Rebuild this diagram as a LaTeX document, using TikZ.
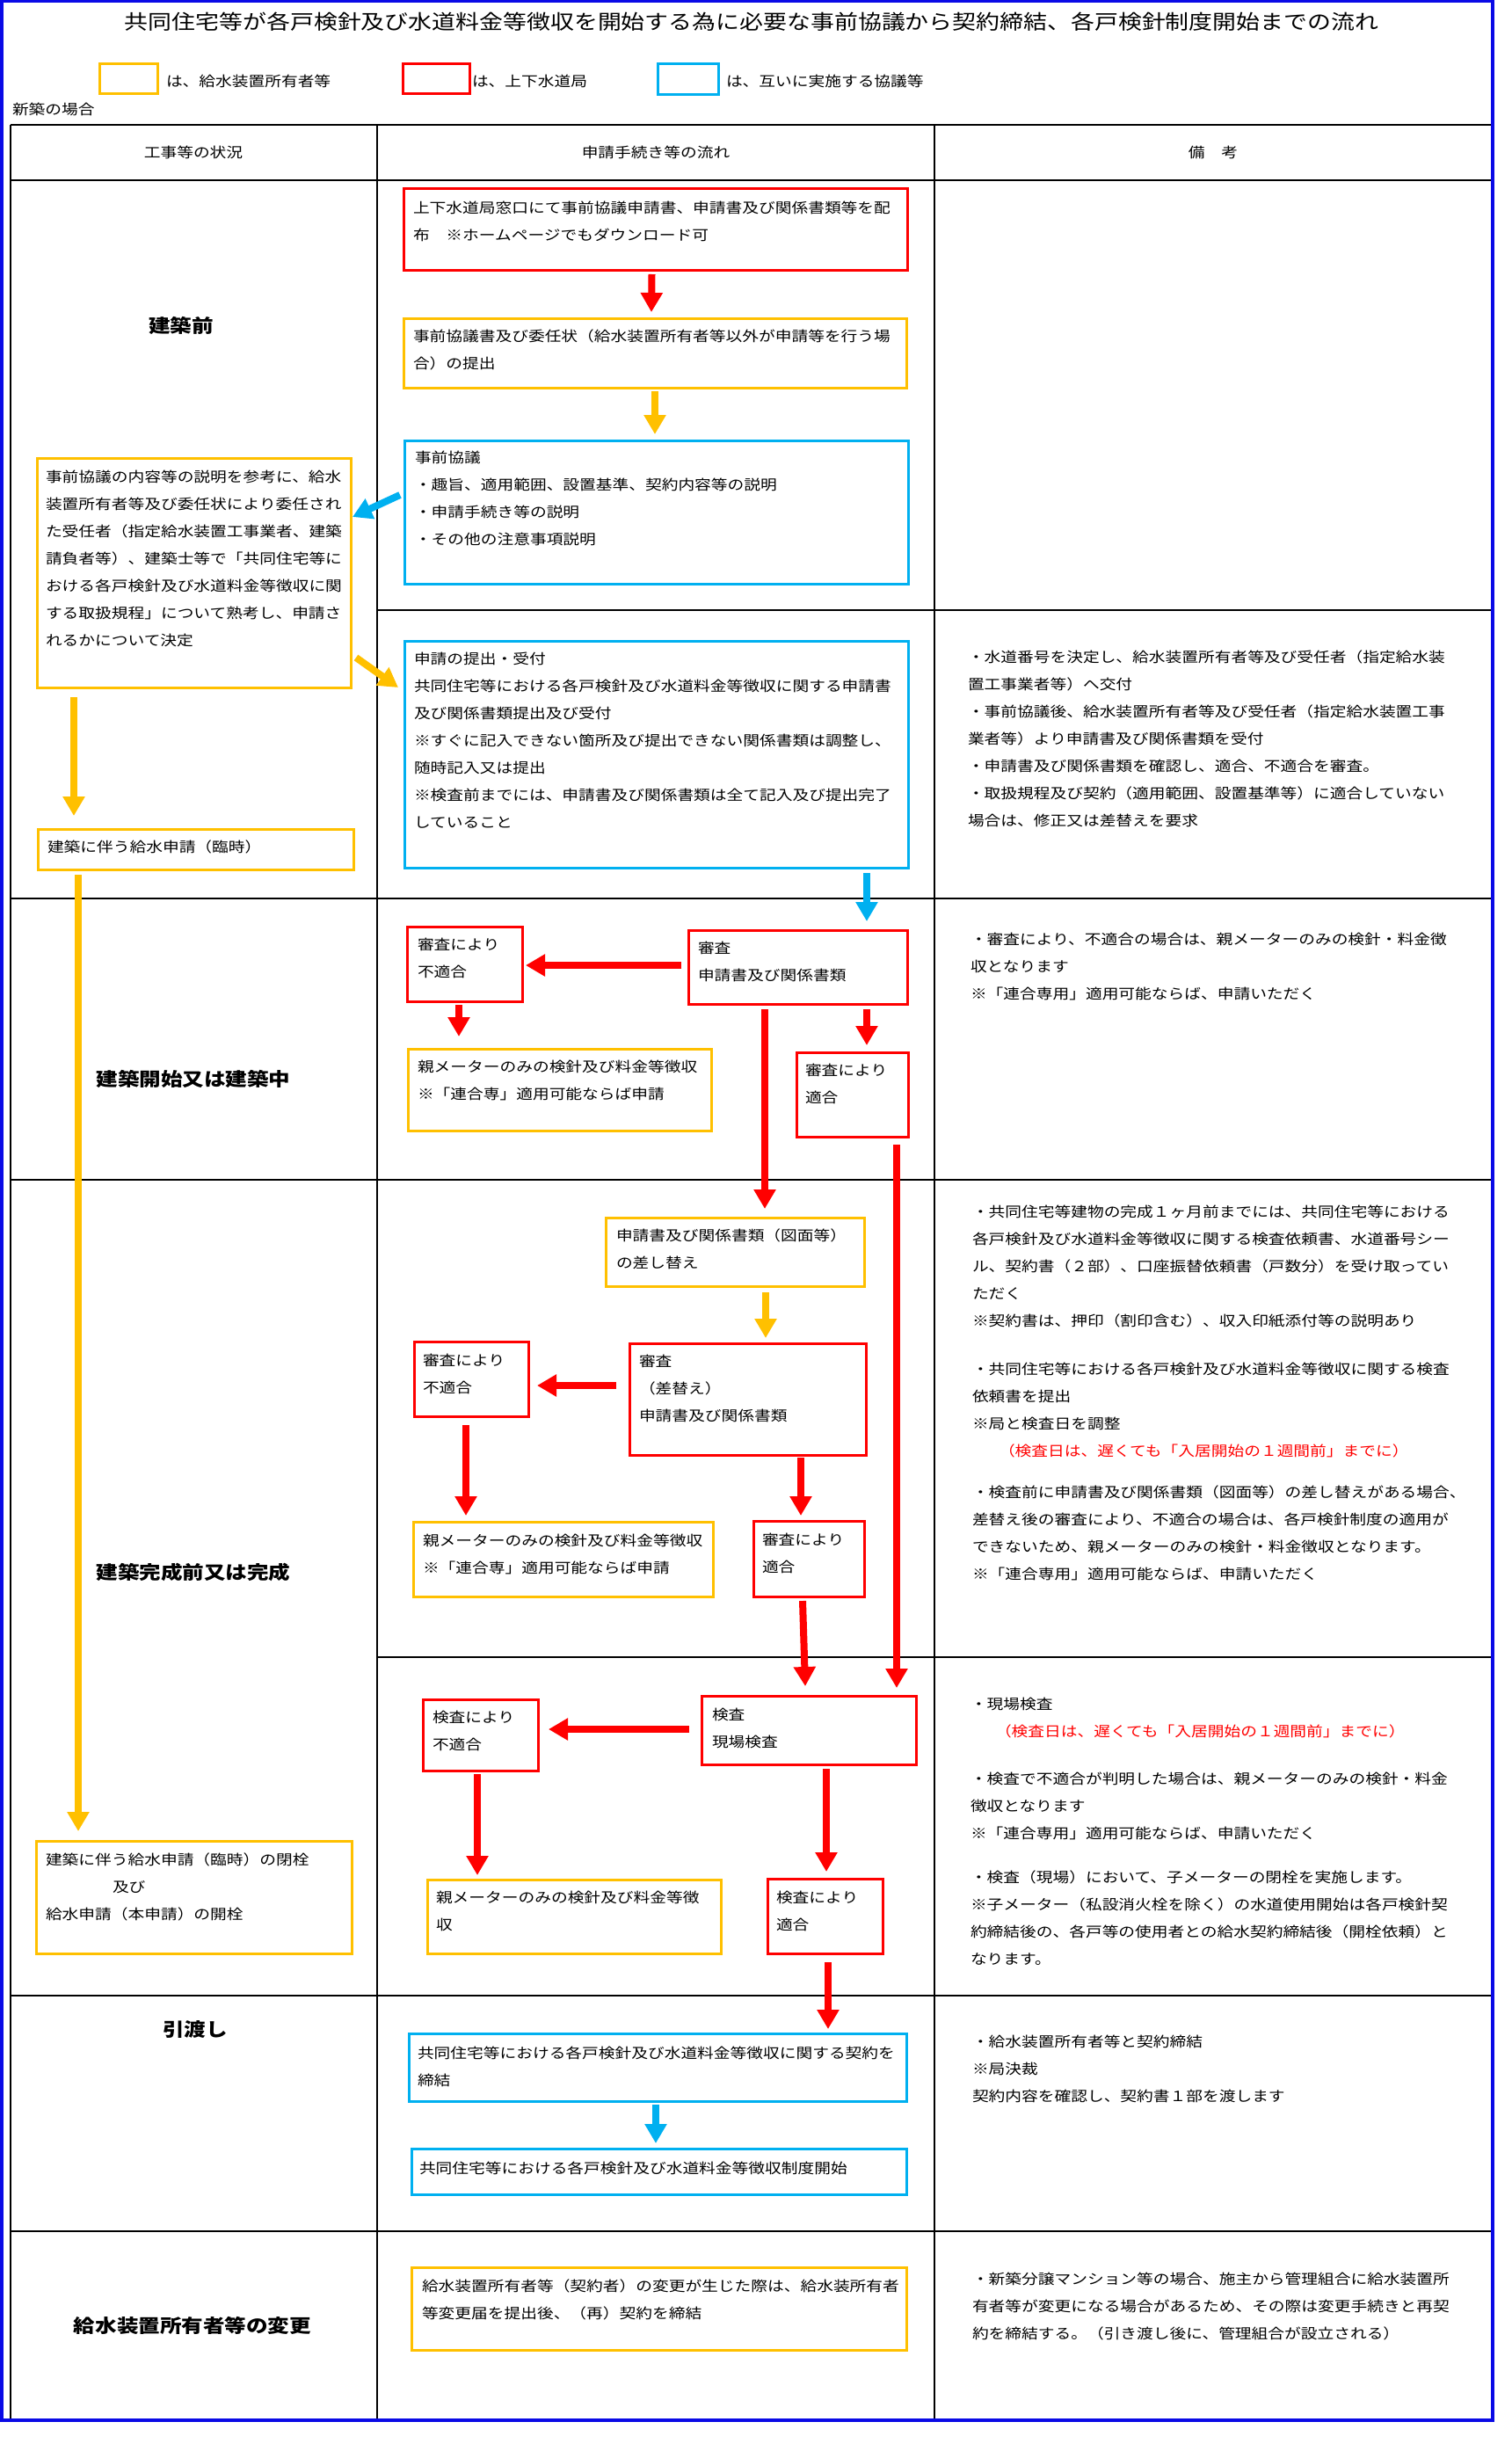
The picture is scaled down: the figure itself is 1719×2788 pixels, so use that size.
\documentclass[tikz,border=0pt]{standalone}
\usepackage{fontspec}
\setmainfont[FakeStretch=1.17]{Noto Sans CJK JP}
\usetikzlibrary{arrows.meta,calc}
\definecolor{yel}{HTML}{FFC000}
\definecolor{rd}{HTML}{FF0000}
\definecolor{bl}{HTML}{00B0F0}
\definecolor{frm}{HTML}{0A0AE6}
\newcommand\ml[1]{\begin{tabular}[t]{@{}l@{}}#1\end{tabular}}
\tikzset{
  bx/.style={draw, line width=3pt, anchor=north west, inner sep=0pt, outer sep=0pt},
  boxr/.style={bx, draw=rd},
  boxy/.style={bx, draw=yel},
  boxb/.style={bx, draw=bl},
  txt/.style={anchor=base west, inner sep=0pt, outer sep=0pt, font=\fontsize{16}{31}\selectfont},
  lbl/.style={inner sep=0pt, font=\fontsize{21}{25}\selectfont\bfseries},
  hdr/.style={inner sep=0pt, font=\fontsize{16}{20}\selectfont},
  tline/.style={line width=1.3pt, black},
  arr/.style={line width=8pt, -{Triangle[width=24pt,length=22pt]}},
  rar/.style={arr, rd},
  yar/.style={arr, yel},
  blar/.style={arr, bl},
}
\begin{document}
\begin{tikzpicture}[x=1pt,y=-1pt]
\fill[white] (0,0) rectangle (1719,2788);
\useasboundingbox (0,0) rectangle (1719,2788);

% title and legend
\node[inner sep=0pt, font=\fontsize{23}{26}\selectfont] (title) at (855,25) {共同住宅等が各戸検針及び水道料金等徴収を開始する為に必要な事前協議から契約締結、各戸検針制度開始までの流れ};
\node[boxy, minimum width=66pt, minimum height=34pt] (Ly) at (113,73) {};
\node[txt] (Lyt) at (189,99) {は、給水装置所有者等};
\node[boxr, minimum width=76pt, minimum height=34pt] (Lr) at (458,73) {};
\node[txt] (Lrt) at (537,99) {は、上下水道局};
\node[boxb, minimum width=69pt, minimum height=35pt] (Lb) at (748,73) {};
\node[txt] (Lbt) at (826,99) {は、互いに実施する協議等};
\node[txt] (shin) at (14,131) {新築の場合};

% table
\draw[tline] (12,142) -- (1697,142);
\draw[tline] (12,205) -- (1697,205);
\draw[tline] (429,694) -- (1697,694);
\draw[tline] (12,1022) -- (1697,1022);
\draw[tline] (12,1342) -- (1697,1342);
\draw[tline] (429,1885) -- (1697,1885);
\draw[tline] (12,2270) -- (1697,2270);
\draw[tline] (12,2538) -- (1697,2538);
\draw[tline] (12,142) -- (12,2753);
\draw[tline] (429,142) -- (429,2753);
\draw[tline] (1063,142) -- (1063,2753);
\draw[tline] (1697,142) -- (1697,2753);
\draw[line width=3.5pt, frm] (1.75,1.75) rectangle (1698,2753);

\node[hdr] (h1) at (220,173) {工事等の状況};
\node[hdr] (h2) at (746,173) {申請手続き等の流れ};
\node[hdr] (h3) at (1380,173) {備　考};

% left labels
\node[lbl] (s1) at (206,370) {建築前};
\node[lbl] (s2) at (220,1227) {建築開始又は建築中};
\node[lbl] (s3) at (220,1788) {建築完成前又は完成};
\node[lbl] (s4) at (222,2308) {引渡し};
\node[lbl] (s5) at (219,2645) {給水装置所有者等の変更};

% boxes
\node[boxr, minimum width=573pt, minimum height=92pt] (A) at (459,215) {};
\node[txt] (At) at (470,243) {\ml{上下水道局窓口にて事前協議申請書、申請書及び関係書類等を配\\布　※ホームページでもダウンロード可}};
\node[boxy, minimum width=572pt, minimum height=79pt] (B) at (459,362) {};
\node[txt] (Bt) at (470,388) {\ml{事前協議書及び委任状（給水装置所有者等以外が申請等を行う場\\合）の提出}};
\node[boxb, minimum width=573pt, minimum height=163pt] (C) at (460,501) {};
\node[txt] (Ct) at (472,526) {\ml{事前協議\\・趣旨、適用範囲、設置基準、契約内容等の説明\\・申請手続き等の説明\\・その他の注意事項説明}};
\node[boxy, minimum width=357pt, minimum height=261pt] (D) at (42,521) {};
\node[txt] (Dt) at (52,548) {\ml{事前協議の内容等の説明を参考に、給水\\装置所有者等及び委任状により委任され\\た受任者（指定給水装置工事業者、建築\\請負者等）、建築士等で「共同住宅等に\\おける各戸検針及び水道料金等徴収に関\\する取扱規程」について熟考し、申請さ\\れるかについて決定}};
\node[boxb, minimum width=573pt, minimum height=258pt] (E) at (460,729) {};
\node[txt] (Et) at (471,755) {\ml{申請の提出・受付\\共同住宅等における各戸検針及び水道料金等徴収に関する申請書\\及び関係書類提出及び受付\\※すぐに記入できない箇所及び提出できない関係書類は調整し、\\随時記入又は提出\\※検査前までには、申請書及び関係書類は全て記入及び提出完了\\していること}};
\node[boxy, minimum width=359pt, minimum height=46pt] (F) at (43,943) {};
\node[txt] (Ft) at (54,969) {建築に伴う給水申請（臨時）};

\node[boxr, minimum width=249pt, minimum height=84pt] (H) at (783,1058) {};
\node[txt] (Ht) at (794,1084) {\ml{審査\\申請書及び関係書類}};
\node[boxr, minimum width=131pt, minimum height=85pt] (I) at (463,1054) {};
\node[txt] (It) at (475,1080) {\ml{審査により\\不適合}};
\node[boxy, minimum width=345pt, minimum height=93pt] (J) at (464,1193) {};
\node[txt] (Jt) at (475,1219) {\ml{親メーターのみの検針及び料金等徴収\\※「連合専」適用可能ならば申請}};
\node[boxr, minimum width=127pt, minimum height=96pt] (K) at (906,1197) {};
\node[txt] (Kt) at (916,1223) {\ml{審査により\\適合}};

\node[boxy, minimum width=294pt, minimum height=78pt] (L) at (689,1385) {};
\node[txt] (Lt) at (701,1411) {\ml{申請書及び関係書類（図面等）\\の差し替え}};
\node[boxr, minimum width=269pt, minimum height=127pt] (M) at (716,1528) {};
\node[txt] (Mt) at (727,1554) {\ml{審査\\（差替え）\\申請書及び関係書類}};
\node[boxr, minimum width=130pt, minimum height=85pt] (N) at (471,1526) {};
\node[txt] (Nt) at (481,1553) {\ml{審査により\\不適合}};
\node[boxy, minimum width=341pt, minimum height=85pt] (O) at (470,1731) {};
\node[txt] (Ot) at (481,1758) {\ml{親メーターのみの検針及び料金等徴収\\※「連合専」適用可能ならば申請}};
\node[boxr, minimum width=126pt, minimum height=86pt] (P) at (857,1730) {};
\node[txt] (Pt) at (867,1757) {\ml{審査により\\適合}};

\node[boxr, minimum width=244pt, minimum height=78pt] (Q) at (798,1929) {};
\node[txt] (Qt) at (810,1956) {\ml{検査\\現場検査}};
\node[boxr, minimum width=131pt, minimum height=81pt] (R) at (481,1933) {};
\node[txt] (Rt) at (492,1959) {\ml{検査により\\不適合}};
\node[boxy, minimum width=334pt, minimum height=84pt] (S) at (486,2138) {};
\node[txt] (St) at (496,2164) {\ml{親メーターのみの検針及び料金等徴\\収}};
\node[boxr, minimum width=131pt, minimum height=85pt] (T) at (873,2137) {};
\node[txt] (Tt) at (883,2164) {\ml{検査により\\適合}};
\node[boxy, minimum width=359pt, minimum height=128pt] (G) at (41,2094) {};
\node[txt] (Gt) at (52,2121) {\ml{建築に伴う給水申請（臨時）の閉栓\\\hspace*{76pt}及び\\給水申請（本申請）の開栓}};

\node[boxb, minimum width=566pt, minimum height=77pt] (U) at (465,2313) {};
\node[txt] (Ut) at (475,2341) {\ml{共同住宅等における各戸検針及び水道料金等徴収に関する契約を\\締結}};
\node[boxb, minimum width=563pt, minimum height=52pt] (V) at (468,2444) {};
\node[txt] (Vt) at (477,2472) {共同住宅等における各戸検針及び水道料金等徴収制度開始};
\node[boxy, minimum width=563pt, minimum height=94pt] (W) at (468,2579) {};
\node[txt] (Wt) at (480,2606) {\ml{給水装置所有者等（契約者）の変更が生じた際は、給水装所有者\\等変更届を提出後、（再）契約を締結}};

% remarks
\node[txt] (r1) at (1101,753) {\ml{・水道番号を決定し、給水装置所有者等及び受任者（指定給水装\\置工事業者等）へ交付\\・事前協議後、給水装置所有者等及び受任者（指定給水装置工事\\業者等）より申請書及び関係書類を受付\\・申請書及び関係書類を確認し、適合、不適合を審査。\\・取扱規程及び契約（適用範囲、設置基準等）に適合していない\\場合は、修正又は差替えを要求}};
\node[txt] (r2) at (1104,1074) {\ml{・審査により、不適合の場合は、親メーターのみの検針・料金徴\\収となります\\※「連合専用」適用可能ならば、申請いただく}};
\node[txt] (r3a) at (1106,1384) {\ml{・共同住宅等建物の完成１ヶ月前までには、共同住宅等における\\各戸検針及び水道料金等徴収に関する検査依頼書、水道番号シー\\ル、契約書（２部）、口座振替依頼書（戸数分）を受け取ってい\\ただく\\※契約書は、押印（割印含む）、収入印紙添付等の説明あり}};
\node[txt] (r3b) at (1106,1563) {\ml{・共同住宅等における各戸検針及び水道料金等徴収に関する検査\\依頼書を提出\\※局と検査日を調整\\\hspace*{30pt}\textcolor{rd}{（検査日は、遅くても「入居開始の１週間前」までに）}}};
\node[txt] (r3c) at (1106,1703) {\ml{・検査前に申請書及び関係書類（図面等）の差し替えがある場合、\\差替え後の審査により、不適合の場合は、各戸検針制度の適用が\\できないため、親メーターのみの検針・料金徴収となります。\\※「連合専用」適用可能ならば、申請いただく}};
\node[txt] (r4a) at (1104,1944) {\ml{・現場検査\\\hspace*{28pt}\textcolor{rd}{（検査日は、遅くても「入居開始の１週間前」までに）}}};
\node[txt] (r4b) at (1104,2029) {\ml{・検査で不適合が判明した場合は、親メーターのみの検針・料金\\徴収となります\\※「連合専用」適用可能ならば、申請いただく}};
\node[txt] (r4c) at (1104,2141) {\ml{・検査（現場）において、子メーターの閉栓を実施します。\\※子メーター（私設消火栓を除く）の水道使用開始は各戸検針契\\約締結後の、各戸等の使用者との給水契約締結後（開栓依頼）と\\なります。}};
\node[txt] (r5) at (1106,2328) {\ml{・給水装置所有者等と契約締結\\※局決裁\\契約内容を確認し、契約書１部を渡します}};
\node[txt] (r6) at (1106,2598) {\ml{・新築分譲マンション等の場合、施主から管理組合に給水装置所\\有者等が変更になる場合があるため、その際は変更手続きと再契\\約を締結する。（引き渡し後に、管理組合が設立される）}};

% connectors
\draw[rar] ($(A.south)+(-4,5)$) -- ($(B.north)+(-4,-7)$);
\draw[yar] ($(B.south)+(0,4)$) -- ($(C.north)+(-1.5,-7)$);
\draw[blar] ($(C.north west)+(-5,62)$) -- ($(D.north east)+(2,67)$);
\draw[yar] ($(D.north east)+(6,227)$) -- ($(E.north west)+(-7,53)$);
\draw[yar] ($(D.south west)+(42,11)$) -- ($(F.north west)+(41,-15)$);
\draw[yar] ($(F.south west)+(46,6)$) -- ($(G.north west)+(48,-11)$);
\draw[blar] ($(E.south east)+(-47,6)$) -- ($(H.north west)+(203,-10)$);
\draw[rar] ($(H.north west)+(-8,40)$) -- ($(I.north east)+(4,44)$);
\draw[rar] ($(I.south west)+(59,4)$) -- ($(J.north west)+(58,-14)$);
\draw[rar] ($(H.south west)+(203,6)$) -- ($(K.north west)+(80,-8)$);
\draw[rar] ($(H.south west)+(87,6)$) -- ($(L.north west)+(181,-10)$);
\draw[rar] ($(K.south west)+(114,9)$) -- ($(Q.north west)+(222,-9)$);
\draw[yar] ($(L.south west)+(182,7)$) -- ($(M.north west)+(155,-6)$);
\draw[rar] ($(M.north west)+(-15,48)$) -- ($(N.north east)+(10,50)$);
\draw[rar] ($(N.south west)+(59,10)$) -- ($(O.north west)+(60,-7)$);
\draw[rar] ($(M.south west)+(195,3)$) -- ($(P.north west)+(54,-6)$);
\draw[rar] ($(P.south west)+(56,5)$) -- ($(Q.north west)+(118,-11)$);
\draw[rar] ($(Q.north west)+(-14,38)$) -- ($(R.north east)+(12,34)$);
\draw[rar] ($(R.south west)+(62,4)$) -- ($(S.north west)+(57,-5)$);
\draw[rar] ($(Q.south west)+(142,5)$) -- ($(T.north west)+(67,-8)$);
\draw[rar] ($(T.south west)+(69,10)$) -- ($(U.north west)+(477,-5)$);
\draw[blar] ($(U.south west)+(281,4)$) -- ($(V.north west)+(278,-6)$);
\end{tikzpicture}
\end{document}
